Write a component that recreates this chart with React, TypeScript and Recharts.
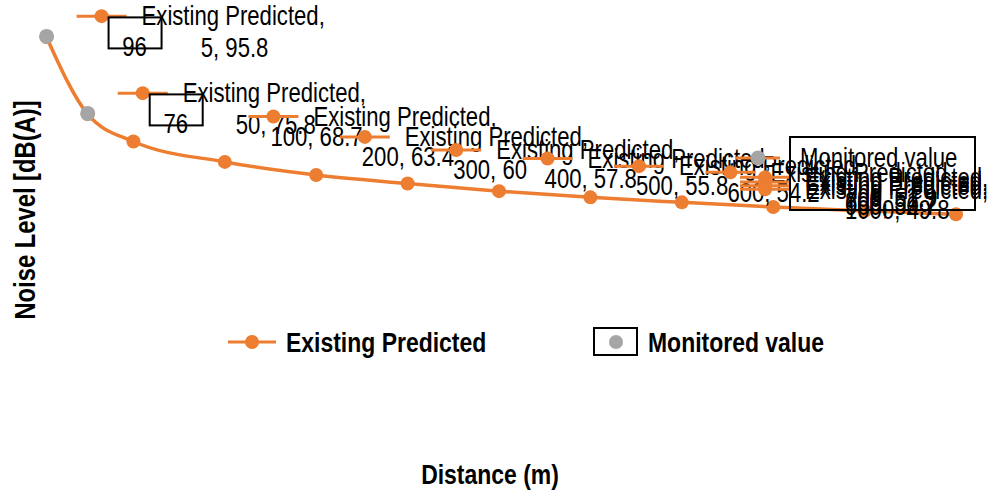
import { LineChart, Line, XAxis, YAxis, LabelList } from "recharts";

const distances = [5, 50, 100, 200, 300, 400, 500, 600, 700, 800, 900, 1000];
const predicted = [95.8, 75.8, 68.7, 63.4, 60, 57.8, 55.8, 54.2, 52.9, 51.7, 50.7, 49.8];
const monitoredDistances = [5, 50];
const monitored = [96, 76];

const existingData = distances.map((d, i) => ({ d, v: predicted[i] }));
const monitoredData = monitoredDistances.map((d, i) => ({ d, v: monitored[i] }));

const ORANGE = "#ED7D31";
const GRAY = "#A5A5A5";

// Arial Narrow look-alike: Liberation Sans squeezed horizontally
const NT = ({ x, y, size = 27, bold = false, anchor = "start", rotate = 0, children }: any) => (
  <text
    transform={`translate(${x} ${y}) rotate(${rotate}) scale(0.82 1)`}
    fontFamily='"Liberation Sans", Arial, sans-serif'
    fontSize={size}
    fontWeight={bold ? "bold" : "normal"}
    textAnchor={anchor}
    dominantBaseline="central"
    fill="#000"
  >
    {children}
  </text>
);

// excel-ish data labels with a legend key, pushed right of each point
const ExistingLabel = (props: any) => {
  const { x, y, index } = props;
  const near = index < 2;
  const kx = near ? x + 55 : Math.min(x + 140, 765);
  const ky = near ? y - 21 : y - 25;
  const clamped = !near && x + 140 > 765;
  return (
    <g>
      <line x1={kx - 25} x2={kx + 25} y1={ky} y2={ky} stroke={ORANGE} strokeWidth={3} />
      <circle cx={kx} cy={ky} r={7} fill={ORANGE} />
      <NT x={kx + 40} y={ky}>Existing Predicted,</NT>
      {near ? (
        <NT x={kx + 133} y={ky + 32} anchor="middle">
          {`${distances[index]}, ${predicted[index]}`}
        </NT>
      ) : (
        <NT x={clamped ? kx + 80 : kx - 3} y={ky + 20}>
          {`${distances[index]}, ${predicted[index]}`}
        </NT>
      )}
    </g>
  );
};

const MonitoredLabel = (props: any) => {
  const { x, y, value } = props;
  return (
    <g>
      <rect x={x + 62} y={y - 19} width={53} height={31} fill="none" stroke="#000" strokeWidth={2} />
      <NT x={x + 88} y={y + 10} anchor="middle">
        {value}
      </NT>
    </g>
  );
};

export default function App() {
  return (
    <div style={{ position: "absolute", left: 0, top: 0, width: 994, height: 494, background: "#fff" }}>
      <LineChart
        width={994}
        height={494}
        margin={{ top: 21, right: 38, bottom: 242, left: 42 }}
      >
        <XAxis dataKey="d" type="number" domain={[0, 1000]} hide />
        <YAxis type="number" domain={[40, 100]} hide />
        <Line
          data={existingData}
          dataKey="v"
          type="monotone"
          stroke={ORANGE}
          strokeWidth={3.5}
          dot={{ r: 7, fill: ORANGE, stroke: ORANGE, strokeWidth: 0 }}
          isAnimationActive={false}
        >
          <LabelList dataKey="v" content={ExistingLabel} />
        </Line>
        <Line
          data={monitoredData}
          dataKey="v"
          stroke="none"
          dot={{ r: 7.5, fill: GRAY, stroke: GRAY, strokeWidth: 0 }}
          isAnimationActive={false}
        >
          <LabelList dataKey="v" content={MonitoredLabel} />
        </Line>
      </LineChart>

      <svg
        width={994}
        height={494}
        style={{ position: "absolute", left: 0, top: 0, pointerEvents: "none" }}
      >
        {/* stray label box for the monitored series */}
        <rect x={790} y={137} width={185} height={73} fill="none" stroke="#000" strokeWidth={2} />
        <line x1={735} x2={780} y1={158} y2={158} stroke={ORANGE} strokeWidth={3} />
        <circle cx={758} cy={158} r={7.5} fill={GRAY} />
        <NT x={800} y={158}>Monitored value</NT>

        {/* legend */}
        <line x1={228} x2={276} y1={342} y2={342} stroke={ORANGE} strokeWidth={3} />
        <circle cx={252} cy={342} r={7} fill={ORANGE} />
        <NT x={286} y={342} size={28} bold>Existing Predicted</NT>
        <rect x={594} y={328} width={43} height={27} fill="none" stroke="#000" strokeWidth={2} />
        <circle cx={616} cy={342} r={7} fill={GRAY} />
        <NT x={648} y={342} size={28} bold>Monitored value</NT>

        {/* axis titles */}
        <NT x={25} y={210} size={29} bold anchor="middle" rotate={-90}>Noise Level [dB(A)]</NT>
        <NT x={490} y={474} size={28} bold anchor="middle">Distance (m)</NT>
      </svg>
    </div>
  );
}
